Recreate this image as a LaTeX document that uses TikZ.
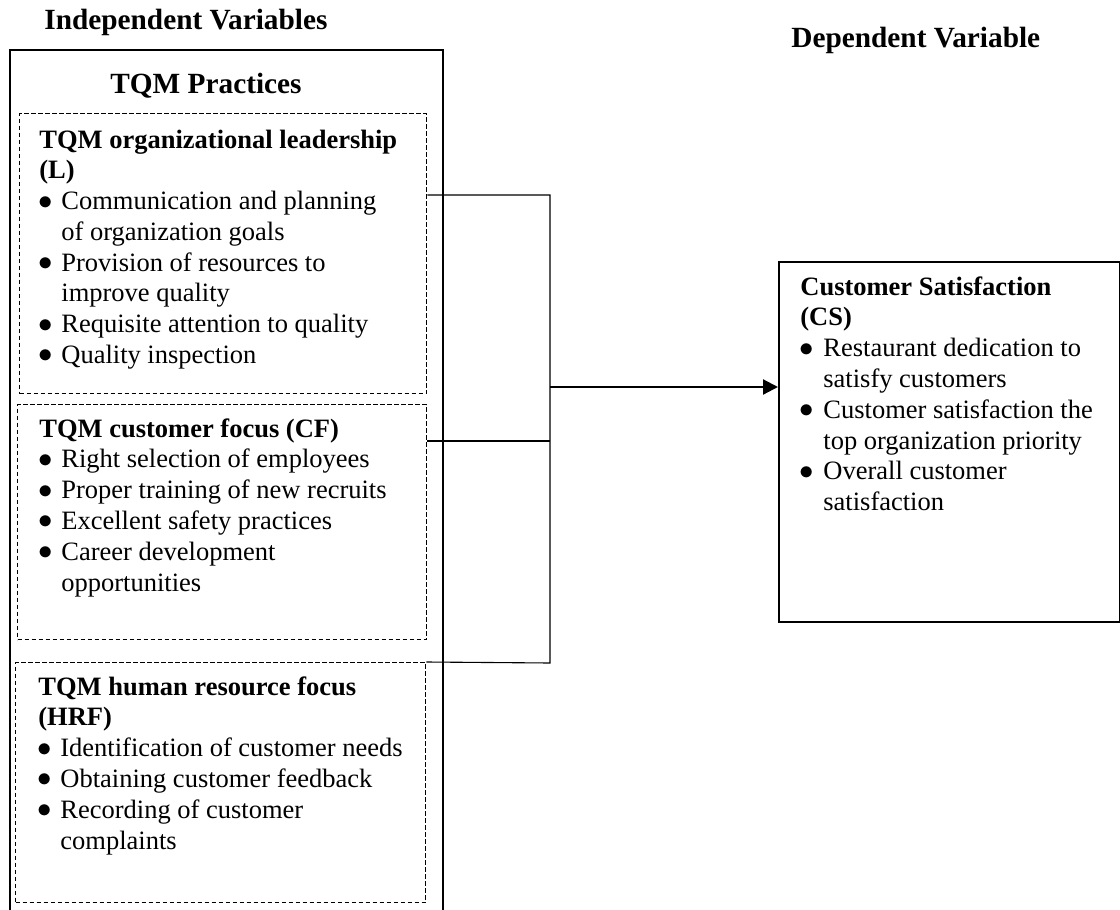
\documentclass[tikz,border=0pt]{standalone}
\usepackage{fontspec}
\setmainfont{Liberation Serif}
\usetikzlibrary{arrows.meta}
\newcommand{\bulmark}{\raisebox{0.3pt}{$\bullet$}}
\newcommand{\bul}{\makebox[11pt][l]{\hspace*{-0.6pt}\bulmark}}
\newcommand{\ind}{\hspace*{11pt}}
\newcommand{\bulr}{\makebox[11.5pt][l]{\hspace*{-0.6pt}\bulmark}}
\newcommand{\indr}{\hspace*{11.5pt}}
\newcommand{\bodyfont}{\fontsize{13.25pt}{15.4pt}\selectfont}
\newcommand{\titlefont}{\fontsize{14.65pt}{17pt}\selectfont\bfseries}
\begin{document}
\begin{tikzpicture}[x=0.5pt,y=-0.5pt,
  dbox/.style={draw, dash pattern=on 2.4pt off 1.1pt, line width=0.65pt, inner sep=0pt, anchor=north west},
  sbox/.style={draw, line width=0.8pt, inner sep=0pt, anchor=north west},
  outer/.style={draw, line width=0.8pt},
  txt/.style={anchor=base west, inner sep=0pt},
  ttl/.style={anchor=base west, inner sep=0pt, font=\titlefont},
  conn/.style={draw, line width=0.55pt},
  arr/.style={draw, line width=1.1pt, -{Triangle[length=7.5pt,width=7.5pt]}}]
\useasboundingbox (0,0) rectangle (1120,910);
\fill[white] (0,0) rectangle (1120,910);

% titles
\node[ttl] (indep) at (44,29) {Independent Variables};
\node[ttl] (dep) at (791,47) {Dependent Variable};

% outer TQM box
\draw[outer] (10,914) -- (10,50) -- (443,50) -- (443,914);
\node[ttl] (tqm) at (110,93) {TQM Practices};

% dashed boxes
\node[dbox, minimum width=203.5pt, minimum height=140pt] (b1) at (19,113) {};
\node[dbox, minimum width=204.5pt, minimum height=117.5pt] (b2) at (17,404) {};
\node[dbox, minimum width=205pt, minimum height=120pt] (b3) at (15,662) {};

% right box
\node[sbox, minimum width=170.5pt, minimum height=180pt] (cs) at (778,261) {};

% texts
\node[txt] (t1) at (39,148) {\parbox[t]{200pt}{\bodyfont
\textbf{TQM organizational leadership}\\
\textbf{(L)}\\
\bul Communication and planning\\
\ind of organization goals\\
\bul Provision of resources to\\
\ind improve quality\\
\bul Requisite attention to quality\\
\bul Quality inspection}};

\node[txt] (t2) at (39,437) {\parbox[t]{200pt}{\bodyfont
\textbf{TQM customer focus (CF)}\\
\bul Right selection of employees\\
\bul Proper training of new recruits\\
\bul Excellent safety practices\\
\bul Career development\\
\ind opportunities}};

\node[txt] (t3) at (38,695) {\parbox[t]{200pt}{\bodyfont
\textbf{TQM human resource focus}\\
\textbf{(HRF)}\\
\bul Identification of customer needs\\
\bul Obtaining customer feedback\\
\bul Recording of customer\\
\ind complaints}};

\node[txt] (t4) at (800,295) {\parbox[t]{165pt}{\bodyfont
\textbf{Customer Satisfaction}\\
\textbf{(CS)}\\
\bulr Restaurant dedication to\\
\indr satisfy customers\\
\bulr Customer satisfaction the\\
\indr top organization priority\\
\bulr Overall customer\\
\indr satisfaction}};

% connectors
\coordinate (jt) at (550,195);
\coordinate (jm) at (550,441);
\coordinate (jb) at (550,663);
\coordinate (ja) at (550,387);
\draw[conn] (jt -| b1.east) -- (jt) -- (jb) -- (b3.north east);
\draw[conn] (jm -| b2.east) -- (jm);
\draw[arr] (ja) -- (ja -| cs.west);
\end{tikzpicture}
\end{document}
